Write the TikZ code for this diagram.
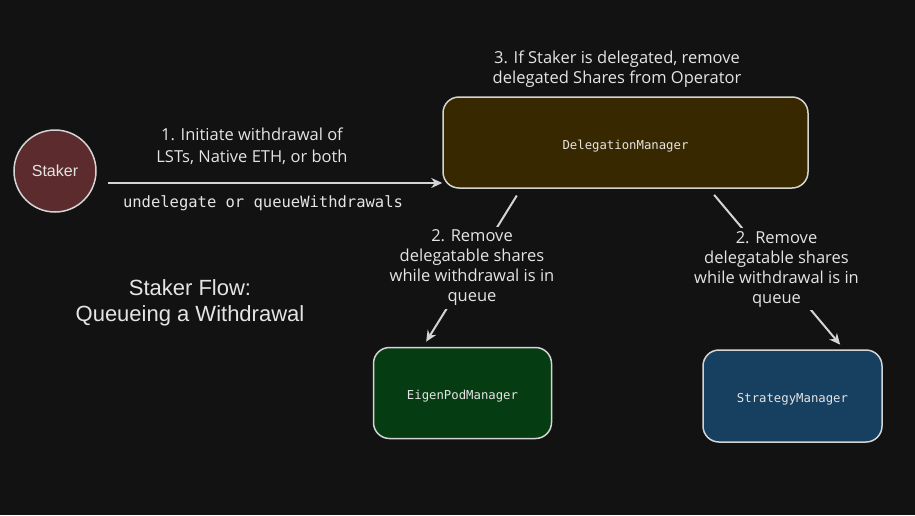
\documentclass[tikz,border=0pt]{standalone}
\usepackage{fontspec}
\setmainfont{Liberation Sans}
\setmonofont{DejaVu Sans Mono}
\newfontfamily\handfont{Open Sans}
\usepackage{tikz}
\usetikzlibrary{arrows.meta, positioning}

\definecolor{bgcol}{HTML}{121212}
\definecolor{linecol}{HTML}{D4D4D4}
\definecolor{textcol}{HTML}{E4E4E4}
\definecolor{stakerfill}{HTML}{5C2B2D}
\definecolor{delegfill}{HTML}{382800}
\definecolor{podfill}{HTML}{053C12}
\definecolor{stratfill}{HTML}{173F5F}

\begin{document}
\begin{tikzpicture}[x=1pt, y=-1pt,
  box/.style={draw=linecol, line width=1.5pt, rounded corners=16pt, text=textcol,
              text height=16pt, text depth=2.5pt,
              font=\ttfamily\fontsize{12.3}{14}\selectfont},
  note/.style={text=textcol, align=center, inner sep=3pt,
               font=\handfont\fontsize{16.5}{20}\selectfont},
  flow/.style={draw=linecol, line width=2pt, -{Stealth[length=11pt, width=10pt]}}]
  \fill[bgcol] (0,0) rectangle (915,515);
  % participants
  \node[circle, draw=linecol, line width=1.5pt, fill=stakerfill, minimum size=82pt,
        text=textcol, font=\fontsize{16}{18}\selectfont] (staker) at (55,171) {Staker};
  \node[box, fill=delegfill, minimum width=365pt, minimum height=91pt] (dm) at (625.5,142.5) {DelegationManager};
  \node[box, fill=podfill, minimum width=178pt, minimum height=91pt] (epm) at (462.5,393) {EigenPodManager};
  \node[box, fill=stratfill, minimum width=179pt, minimum height=92pt] (sm) at (792.5,396) {StrategyManager};
  % texts
  \node[note, font=\handfont\fontsize{16.5}{22}\selectfont] (initnote) at (252,146) {1. Initiate withdrawal of\\LSTs, Native ETH, or both};
  \node[text=textcol, font=\ttfamily\fontsize{15.5}{18}\selectfont] (call) at (263,203) {undelegate or queueWithdrawals};
  \node[note] (delegnote) at (617,69) {3. If Staker is delegated, remove\\delegated Shares from Operator};
  \node[text=textcol, align=center, font=\fontsize{22}{26}\selectfont] (title) at (190,303) {Staker Flow:\\Queueing a Withdrawal};
  % connectors
  \coordinate (start) at (108,183);
  \draw[flow] (start) -- (start -| dm.west);
  \draw[flow, shorten <=8pt, shorten >=6pt] ([xshift=-104.5pt]dm.south) --
    node[note, fill=bgcol] (podnote) {2. Remove\\delegatable shares\\while withdrawal is in\\queue} ([xshift=-39.5pt]epm.north);
  \draw[flow, shorten <=8pt, shorten >=6pt] ([xshift=83.5pt]dm.south) --
    node[note, fill=bgcol] (stratnote) {2. Remove\\delegatable shares\\while withdrawal is in\\queue} ([xshift=51.5pt]sm.north);
\end{tikzpicture}
\end{document}
